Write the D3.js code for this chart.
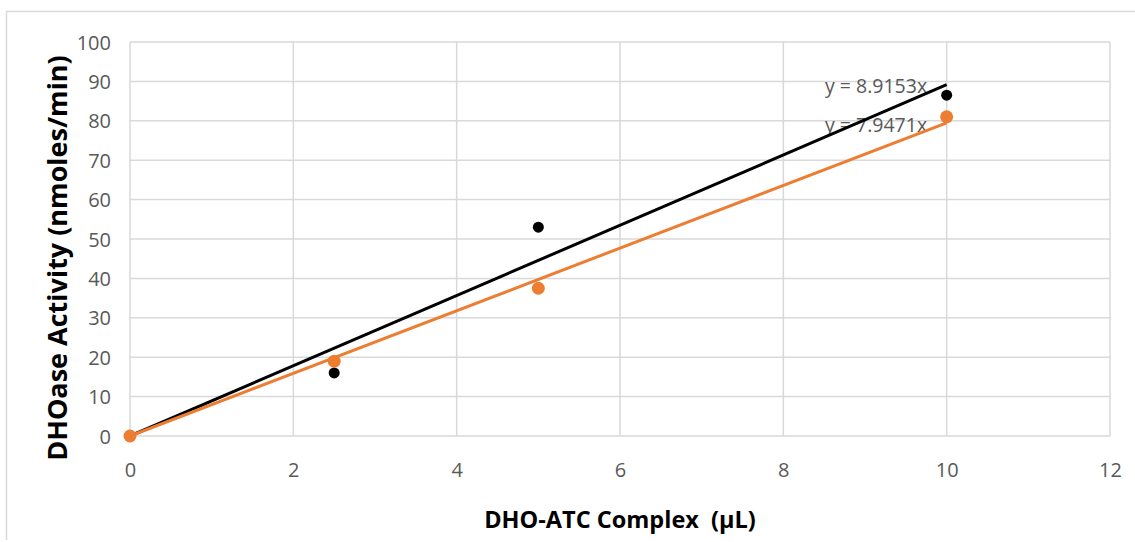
<!DOCTYPE html>
<html>
<head>
<meta charset="utf-8">
<script src="https://cdn.jsdelivr.net/npm/d3@7"></script>
<style>
  body { margin: 0; background: #fff; }
  svg { display: block; }
  .tick text { font-family: "Open Sans", sans-serif; fill: #595959; }
  .title { font-family: "Open Sans", sans-serif; font-weight: bold; fill: #000; white-space: pre; }
</style>
</head>
<body>
<div class="container"></div>
<script>
const w = 1135;
const h = 542;

// data
const volumes = [0, 2.5, 5, 10];
const activityBlack = [0, 16, 53, 86.5];
const activityOrange = [0, 19, 37.5, 81];
const slopes = [8.9153, 7.9471];
const trendLabels = ["y = 8.9153x", "y = 7.9471x"];
const xTicks = [0, 2, 4, 6, 8, 10, 12];
const yTicks = [0, 10, 20, 30, 40, 50, 60, 70, 80, 90, 100];

const margin = { top: 42, right: 25, bottom: 106, left: 130 };
const width = w - margin.left - margin.right;
const height = h - margin.top - margin.bottom;

const svg = d3.select('.container').append('svg')
    .attr('width', w)
    .attr('height', h);

// outer frame (only top and left edges visible)
svg.append('path')
    .attr('d', 'M6.5,540 L6.5,11.5 L1135,11.5')
    .attr('fill', 'none')
    .attr('stroke', '#d9d9d9')
    .attr('stroke-width', 1.5);

const chart = svg.append('g')
    .attr('transform', `translate(${margin.left}, ${margin.top})`);

const x = d3.scaleLinear().domain([0, 12]).range([0, width]);
const y = d3.scaleLinear().domain([0, 100]).range([height, 0]);

// grid
chart.append('g')
    .selectAll('line.h')
    .data(yTicks)
    .enter().append('line')
    .attr('x1', 0).attr('x2', width)
    .attr('y1', d => y(d)).attr('y2', d => y(d))
    .attr('stroke', '#d9d9d9')
    .attr('stroke-width', 1.5);

chart.append('g')
    .selectAll('line.v')
    .data(xTicks)
    .enter().append('line')
    .attr('x1', d => x(d)).attr('x2', d => x(d))
    .attr('y1', 0).attr('y2', height)
    .attr('stroke', '#d9d9d9')
    .attr('stroke-width', 1.5);

// axes (labels only)
const xAxis = chart.append('g')
    .attr('transform', `translate(0, ${height})`)
    .call(d3.axisBottom(x).tickValues(xTicks).tickSize(0).tickPadding(27));
xAxis.select('.domain').remove();
xAxis.selectAll('text').style('font-size', '20px');

const yAxis = chart.append('g')
    .call(d3.axisLeft(y).tickValues(yTicks).tickSize(0).tickPadding(19));
yAxis.select('.domain').remove();
yAxis.selectAll('text').style('font-size', '20px').attr('dy', '0.35em');

// trendline equations
chart.selectAll('text.eq')
    .data(trendLabels)
    .enter().append('text')
    .attr('class', 'eq')
    .attr('x', 695)
    .attr('y', (d, i) => [51, 90][i])
    .attr('font-family', '"Open Sans", sans-serif')
    .attr('font-size', '19.5px')
    .attr('fill', '#595959')
    .text(d => d);

// trendlines through origin
const colors = ['#000000', '#ED7D31'];
chart.selectAll('line.trend')
    .data(slopes)
    .enter().append('line')
    .attr('x1', x(0)).attr('y1', y(0))
    .attr('x2', x(10)).attr('y2', (d) => y(d * 10))
    .attr('stroke', (d, i) => colors[i])
    .attr('stroke-width', 3);

// points
const series = [activityBlack, activityOrange];
series.forEach((vals, s) => {
  chart.append('g')
    .selectAll('circle')
    .data(vals)
    .enter().append('circle')
    .attr('cx', (d, i) => x(volumes[i]))
    .attr('cy', d => y(d))
    .attr('r', s === 0 ? 5.5 : 6.5)
    .attr('fill', colors[s]);
});

// axis titles
svg.append('text')
    .attr('class', 'title')
    .attr('x', 620)
    .attr('y', 528)
    .attr('text-anchor', 'middle')
    .attr('font-size', '23.5px')
    .text('DHO-ATC Complex  (µL)');

svg.append('text')
    .attr('class', 'title')
    .attr('transform', 'translate(67, 258) rotate(-90)')
    .attr('text-anchor', 'middle')
    .attr('font-size', '27px')
    .text('DHOase Activity (nmoles/min)');
</script>
</body>
</html>
